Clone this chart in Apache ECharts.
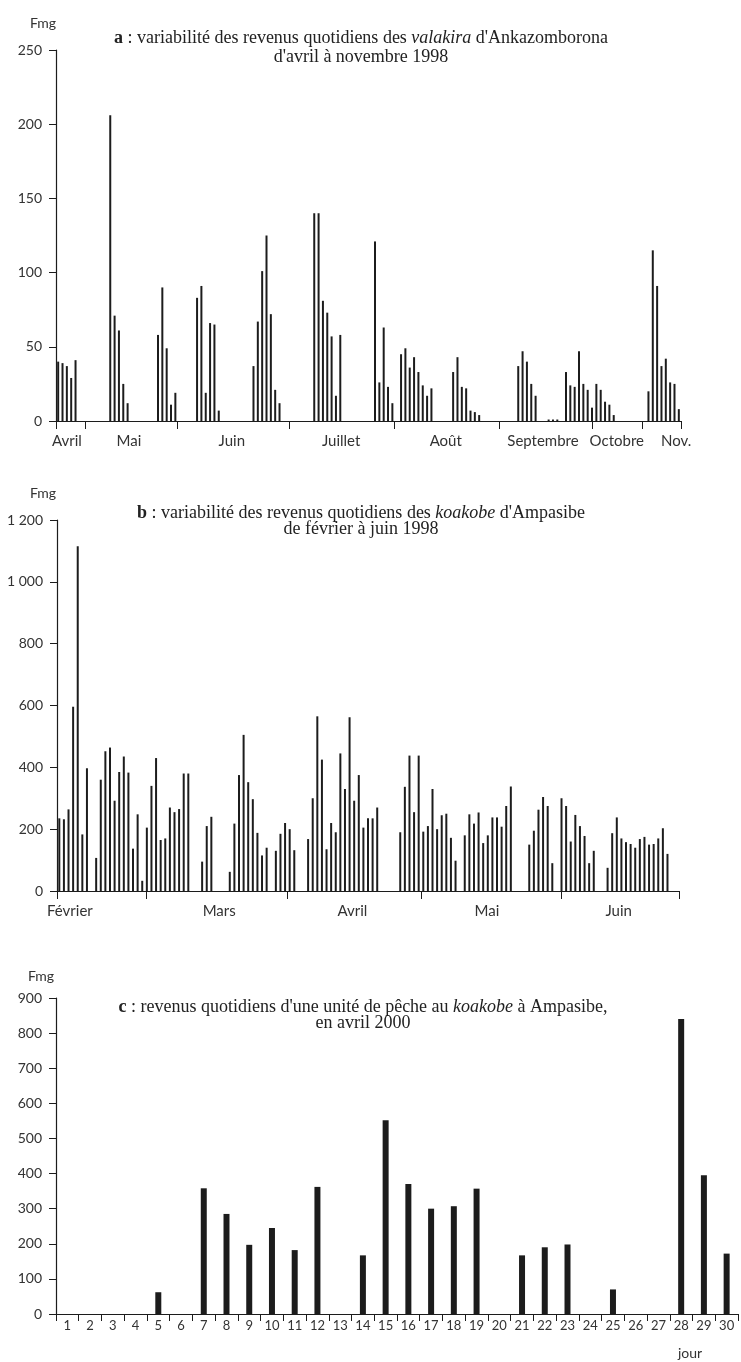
<!DOCTYPE html>
<html>
<head>
<meta charset="utf-8">
<script src="https://cdn.jsdelivr.net/npm/echarts@6/dist/echarts.min.js"></script>
<style>
  html, body { margin: 0; padding: 0; background: #fff; }
  #chart { width: 741px; height: 1362px; }
</style>
</head>
<body>
<div id="chart"></div>
<script>
// a : valakira d'Ankazomborona, avril -> novembre 1998 (one slot per day on the axis)
const aSlots = 144;
const aRunStarts = [0, 12, 23, 32, 45, 59, 73, 79, 91, 106, 113, 117, 136];
const aRuns = [
  [40, 39, 37, 29, 41],
  [206, 71, 61, 25, 12],
  [58, 90, 49, 11, 19],
  [83, 91, 19, 66, 65, 7],
  [37, 67, 101, 125, 72, 21, 12],
  [140, 140, 81, 73, 57, 17, 58],
  [121, 26, 63, 23, 12],
  [45, 49, 36, 43, 33, 24, 17, 22],
  [33, 43, 23, 22, 7, 6, 4],
  [37, 47, 40, 25, 17],
  [1, 1, 1],
  [33, 24, 23, 47, 25, 21, 9, 25, 21, 13, 11, 4],
  [20, 115, 91, 37, 42, 26, 25, 8]
];
const aMonths = ['Avril', 'Mai', 'Juin', 'Juillet', 'Août', 'Septembre', 'Octobre', 'Nov.'];
const aMonthTicks = [0, 6.7, 28, 53.8, 78, 102.1, 123.5, 135.1, 144];
const aMonthLabelAt = [2.5, 16.8, 40.5, 65.7, 89.8, 112.2, 129.2, 142.9];

// b : koakobe d'Ampasibe, février -> juin 1998
const bSlots = 135;
const bRunStarts = [0, 8, 31, 37, 47, 54, 74, 88, 102, 109, 119];
const bRuns = [
  [235, 232, 264, 596, 1115, 183, 397],
  [107, 360, 452, 464, 292, 385, 435, 383, 137, 248, 33, 205, 340, 430, 165, 170, 270, 255, 265, 380, 380],
  [95, 210, 240],
  [62, 218, 375, 505, 352, 297, 188, 115, 140],
  [130, 185, 220, 200, 132],
  [168, 300, 565, 425, 135, 220, 190, 445, 330, 562, 292, 375, 205, 235, 235, 270],
  [190, 337, 438, 255, 438, 192, 210, 330, 200, 245, 250, 172, 98],
  [180, 248, 218, 254, 155, 180, 238, 238, 208, 275, 338],
  [150, 195, 263, 304, 275, 90],
  [300, 275, 160, 246, 210, 178, 90, 130],
  [75, 187, 238, 170, 158, 152, 140, 168, 175, 150, 152, 170, 203, 120]
];
const bMonths = ['Février', 'Mars', 'Avril', 'Mai', 'Juin'];
const bMonthTicks = [0, 19.3, 49.9, 79, 109.4, 135];
const bMonthLabelAt = [2.8, 35.2, 64.1, 93.3, 121.9];

// c : une unité de pêche au koakobe, avril 2000
const cDays = ['1','2','3','4','5','6','7','8','9','10','11','12','13','14','15',
  '16','17','18','19','20','21','22','23','24','25','26','27','28','29','30'];
const cValues = [0, 0, 0, 0, 62, 0, 358, 285, 197, 245, 182, 362, 0, 167, 552,
  370, 300, 307, 357, 0, 167, 190, 198, 0, 70, 0, 0, 840, 395, 172];

function runsToBars(starts, runs) {
  const out = [];
  runs.forEach((run, r) => run.forEach((v, k) => out.push([starts[r] + k + 0.5, v])));
  return out;
}

const ink = '#1c1c1c';
const axisFont = 'Lato, "DejaVu Sans", sans-serif';
const titleFont = '"Liberation Serif", "DejaVu Serif", serif';
const titleSize = 18;

function yAxis(gridIndex, max, interval, formatter) {
  return {
    type: 'value', gridIndex, min: 0, max, interval,
    axisLine: { show: true, lineStyle: { color: ink, width: 1.2 } },
    axisTick: { show: true, length: 7, lineStyle: { color: ink } },
    axisLabel: { color: '#333', fontFamily: axisFont, fontSize: 14, margin: 14, formatter },
    splitLine: { show: false }
  };
}

function monthAxis(gridIndex, slots, ticks, labelAt, names) {
  return {
    type: 'value', gridIndex, min: 0, max: slots,
    axisLine: { show: true, onZero: false, lineStyle: { color: ink, width: 1.2 } },
    axisTick: { show: true, length: 8, customValues: ticks, lineStyle: { color: ink } },
    axisLabel: {
      color: '#333', fontFamily: axisFont, fontSize: 15, margin: 13,
      customValues: labelAt,
      formatter: (v) => names[labelAt.indexOf(v)] || ''
    },
    splitLine: { show: false }
  };
}

function titleLine(text, cx, top, rich) {
  return {
    text, left: cx, top, textAlign: 'center', padding: 0,
    textStyle: {
      fontFamily: titleFont, fontSize: titleSize, fontWeight: 'normal', color: '#222',
      rich: rich || {}
    }
  };
}
const richAB = {
  b: { fontFamily: titleFont, fontSize: titleSize, fontWeight: 'bold', color: '#222' },
  i: { fontFamily: titleFont, fontSize: titleSize, fontStyle: 'italic', color: '#222' }
};
function smallLabel(text, cx, top) {
  return {
    text, left: cx, top, textAlign: 'center', padding: 0,
    textStyle: { fontFamily: axisFont, fontSize: 14, fontWeight: 'normal', color: '#333' }
  };
}

const chart = echarts.init(document.getElementById('chart'), null, { renderer: 'canvas' });
chart.setOption({
  animation: false,
  backgroundColor: '#fff',
  title: [
    titleLine("{b|a} : variabilité des revenus quotidiens des {i|valakira} d'Ankazomborona", 361, 29, richAB),
    titleLine("d'avril à novembre 1998", 361, 48),
    titleLine("{b|b} : variabilité des revenus quotidiens des {i|koakobe} d'Ampasibe", 361, 504, richAB),
    titleLine('de février à juin 1998', 361, 520),
    titleLine("{b|c} : revenus quotidiens d'une unité de pêche au {i|koakobe} à Ampasibe,", 363, 998, richAB),
    titleLine('en avril 2000', 363, 1014),
    smallLabel('Fmg', 43, 16),
    smallLabel('Fmg', 43, 486),
    smallLabel('Fmg', 41, 969),
    smallLabel('jour', 690, 1346)
  ],
  grid: [
    { left: 56, right: 60, top: 50, bottom: 941 },
    { left: 57, right: 62, top: 520, bottom: 471 },
    { left: 56, right: 3, top: 998, bottom: 48 }
  ],
  xAxis: [
    monthAxis(0, aSlots, aMonthTicks, aMonthLabelAt, aMonths),
    monthAxis(1, bSlots, bMonthTicks, bMonthLabelAt, bMonths),
    {
      type: 'category', gridIndex: 2, data: cDays, boundaryGap: true,
      axisLine: { show: true, lineStyle: { color: ink, width: 1.2 } },
      axisTick: { show: true, length: 7, interval: 0, lineStyle: { color: ink } },
      axisLabel: { color: '#333', fontFamily: axisFont, fontSize: 13, margin: 5, interval: 0 },
      splitLine: { show: false }
    }
  ],
  yAxis: [
    yAxis(0, 250, 50),
    yAxis(1, 1200, 200, (v) => (v >= 1000 ? '1 ' + String(v).slice(1) : String(v))),
    yAxis(2, 900, 100)
  ],
  series: [
    {
      type: 'bar', xAxisIndex: 0, yAxisIndex: 0, barWidth: 2,
      itemStyle: { color: ink }, data: runsToBars(aRunStarts, aRuns)
    },
    {
      type: 'bar', xAxisIndex: 1, yAxisIndex: 1, barWidth: 2,
      itemStyle: { color: ink }, data: runsToBars(bRunStarts, bRuns)
    },
    {
      type: 'bar', xAxisIndex: 2, yAxisIndex: 2, barWidth: 6,
      itemStyle: { color: ink }, data: cValues
    }
  ]
});
</script>
</body>
</html>
